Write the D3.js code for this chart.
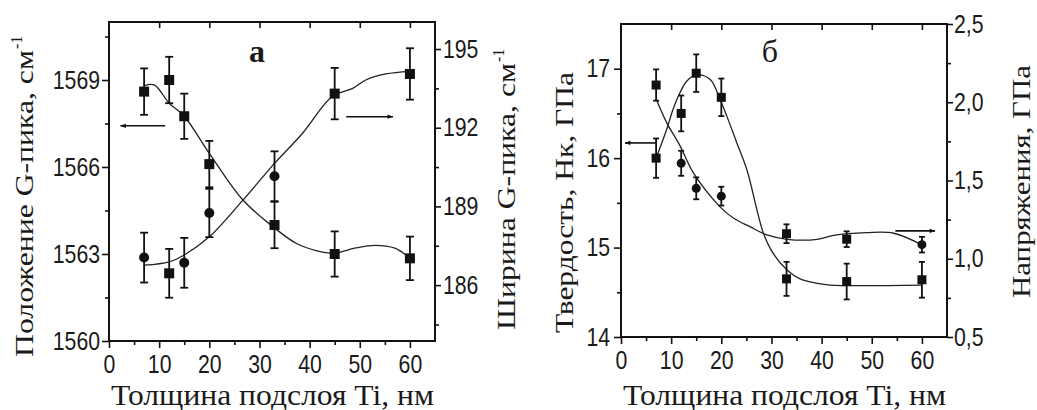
<!DOCTYPE html>
<html><head><meta charset="utf-8">
<script src="https://cdn.jsdelivr.net/npm/d3@7"></script>
<style>
body{margin:0;background:#fff}
svg{display:block}
.tick text{font-family:"Liberation Sans",Arial,sans-serif;font-size:25px;fill:#1a1a1a}
.tick line{stroke:#111;stroke-width:1.6}
.title{font-family:"Liberation Serif","Times New Roman",serif;fill:#1a1a1a}
</style></head><body><div id="chart"></div>
<script>
// толщина подслоя Ti, нм
const thickness = [7, 12, 15, 20, 33, 45, 60]
const xMajor = [0, 10, 20, 30, 40, 50, 60]
const xMinor = [5, 15, 25, 35, 45, 55]

// панель а: положение G-пика (левая ось) и ширина G-пика (правая ось)
const gPos = [1568.6, 1569.0, 1567.75, 1566.1, 1564.0, 1563.0, 1562.85]
const gPosErr = [0.8, 0.8, 0.78, 0.8, 0.8, 0.78, 0.75]
const gPosMark = ['square', 'square', 'square', 'square', 'square', 'square', 'square']
const gWidth = [187.05, 186.45, 186.85, 188.75, 190.15, 193.3, 194.05]
const gWidthErr = [0.95, 0.93, 0.95, 0.92, 0.95, 0.98, 0.98]
const gWidthMark = ['circle', 'square', 'circle', 'circle', 'circle', 'square', 'square']
const gPosFitX = [7, 9, 12, 15, 20, 26.7, 32.7, 37.3, 41.3, 45, 49, 53, 57, 60]
const gPosFit = [1568.8, 1568.83, 1568.2, 1567.75, 1566.47, 1564.86, 1563.94, 1563.37, 1563.12, 1563.03, 1563.2, 1563.3, 1563.2, 1562.85]
const gWidthFitX = [7, 12, 15, 20, 26.7, 33, 38.6, 44.5, 48.6, 51.2, 55.2, 60]
const gWidthFit = [186.76, 186.89, 187.15, 187.84, 189.24, 190.64, 191.79, 193.19, 193.5, 193.82, 194.05, 194.15]
const posTicks = [1560, 1563, 1566, 1569]
const posMinor = [1561.5, 1564.5, 1567.5, 1570.5]
const widthTicks = [186, 189, 192, 195]
const widthMinor = [184.5, 187.5, 190.5, 193.5]

// панель б: твердость (левая ось) и напряжения (правая ось)
const hardness = [16.0, 16.5, 16.95, 16.68, 14.65, 14.62, 14.64]
const hardnessErr = [0.22, 0.2, 0.21, 0.21, 0.19, 0.2, 0.2]
const hardnessMark = ['square', 'square', 'square', 'square', 'square', 'square', 'square']
const stress = [2.11, 1.61, 1.45, 1.40, 1.16, 1.125, 1.09]
const stressErr = [0.1, 0.08, 0.07, 0.06, 0.06, 0.05, 0.05]
const stressMark = ['square', 'circle', 'circle', 'circle', 'square', 'square', 'circle']
const hardFitX = [7, 9.1, 10.1, 11.1, 13.1, 15.1, 17.8, 19.8, 21.1, 23.1, 25.1, 28.4, 30.4, 33.1, 35.7, 39.1, 41.7, 60]
const hardFit = [16.0, 16.32, 16.5, 16.65, 16.86, 16.93, 16.88, 16.65, 16.47, 16.17, 15.87, 15.16, 14.93, 14.75, 14.65, 14.6, 14.58, 14.58]
const stressFitX = [7, 9.1, 11.8, 14.4, 19.8, 22.4, 25.7, 29.1, 33.1, 39.1, 42.4, 49, 54.4, 60]
const stressFit = [2.02, 1.87, 1.72, 1.55, 1.33, 1.26, 1.205, 1.152, 1.124, 1.124, 1.15, 1.167, 1.163, 1.088]
const hardTicks = [14, 15, 16, 17]
const hardMinor = [14.5, 15.5, 16.5]
const stressTicks = [0.5, 1.0, 1.5, 2.0, 2.5]
const stressMinor = [0.75, 1.25, 1.75, 2.25]

const squeeze = 0.85 // tick digits in the scan are condensed

const svg = d3.select('#chart').append('svg')
  .attr('width', 1037).attr('height', 410)

svg.append('defs').append('marker')
  .attr('id', 'head').attr('viewBox', '0 0 10 10')
  .attr('refX', 9).attr('refY', 5)
  .attr('markerWidth', 9).attr('markerHeight', 6)
  .attr('markerUnits', 'userSpaceOnUse')
  .attr('orient', 'auto')
  .append('path').attr('d', 'M0,1.5L10,5L0,8.5Z').attr('fill', '#111')

function drawPanel(p) {
  const g = svg.append('g')
  const x = d3.scaleLinear([0, 65], [p.x0, p.x1])
  const yL = d3.scaleLinear(p.yLdom, [p.bottom, p.top])
  const yR = d3.scaleLinear(p.yRdom, [p.bottom, p.top])

  const ax = (sel, axis) => {
    sel.call(axis)
    sel.select('.domain').remove()
    sel.selectAll('.tick text')
      .attr('x', function () { return (+this.getAttribute('x') || 0) / squeeze })
      .attr('transform', `scale(${squeeze},1)`)
  }

  g.append('g').attr('transform', `translate(0,${p.bottom})`)
    .call(ax, d3.axisBottom(x).tickValues(xMajor).tickSize(7).tickPadding(7))
  g.append('g').attr('transform', `translate(0,${p.bottom})`)
    .call(ax, d3.axisBottom(x).tickValues(xMinor).tickSize(4).tickFormat(() => ''))
  g.append('g').attr('transform', `translate(0,${p.top})`)
    .call(ax, d3.axisBottom(x).tickValues(xMajor.slice(1)).tickSize(6).tickFormat(() => ''))

  g.append('g').attr('transform', `translate(${p.x0},0)`)
    .call(ax, d3.axisLeft(yL).tickValues(p.yLticks).tickSize(7).tickPadding(p.padL).tickFormat(p.fmtL))
  g.append('g').attr('transform', `translate(${p.x0},0)`)
    .call(ax, d3.axisLeft(yL).tickValues(p.yLminor).tickSize(4).tickFormat(() => ''))
  g.append('g').attr('transform', `translate(${p.x1},0)`)
    .call(ax, d3.axisRight(yR).tickValues(p.yRticks).tickSize(6).tickPadding(p.padR).tickFormat(p.fmtR))
  g.append('g').attr('transform', `translate(${p.x1},0)`)
    .call(ax, d3.axisRight(yR).tickValues(p.yRminor).tickSize(4).tickFormat(() => ''))

  g.append('rect')
    .attr('x', p.x0).attr('y', p.top)
    .attr('width', p.x1 - p.x0).attr('height', p.bottom - p.top)
    .attr('fill', 'none').attr('stroke', '#111').attr('stroke-width', 2)

  const line = y => d3.line().x(d => x(d[0])).y(d => y(d[1])).curve(d3.curveCatmullRom.alpha(0.5))

  p.series.forEach(s => {
    const y = s.axis === 'L' ? yL : yR
    g.append('path')
      .datum(d3.zip(s.fitX, s.fit))
      .attr('d', line(y))
      .attr('fill', 'none').attr('stroke', '#222').attr('stroke-width', 1.3)

    const pts = thickness.map((t, i) => ({ t, v: s.vals[i], e: s.errs[i], m: s.marks[i] }))
    const eb = g.append('g').attr('stroke', '#111').attr('stroke-width', 1.8)
    eb.selectAll('line.v').data(pts).join('line')
      .attr('x1', d => x(d.t)).attr('x2', d => x(d.t))
      .attr('y1', d => y(d.v - d.e)).attr('y2', d => y(d.v + d.e))
    ;[-1, 1].forEach(k => {
      eb.selectAll(null).data(pts).join('line')
        .attr('x1', d => x(d.t) - p.cap).attr('x2', d => x(d.t) + p.cap)
        .attr('y1', d => y(d.v + k * d.e)).attr('y2', d => y(d.v + k * d.e))
    })
    g.selectAll(null).data(pts.filter(d => d.m === 'square')).join('rect')
      .attr('x', d => x(d.t) - p.sq / 2).attr('y', d => y(d.v) - p.sq / 2)
      .attr('width', p.sq).attr('height', p.sq).attr('fill', '#111')
    g.selectAll(null).data(pts.filter(d => d.m === 'circle')).join('circle')
      .attr('cx', d => x(d.t)).attr('cy', d => y(d.v)).attr('r', p.sq / 2)
      .attr('fill', '#111')
  })

  p.arrows.forEach(a => {
    const y = a.axis === 'L' ? yL : yR
    g.append('line')
      .attr('x1', x(a.from)).attr('x2', x(a.to))
      .attr('y1', y(a.v)).attr('y2', y(a.v))
      .attr('stroke', '#111').attr('stroke-width', 1.6)
      .attr('marker-end', 'url(#head)')
  })

  g.append('text').attr('class', 'title')
    .attr('x', p.labelX).attr('y', 62).attr('text-anchor', 'middle')
    .attr('font-size', 32).attr('font-weight', p.labelBold ? 'bold' : 'normal')
    .text(p.label)

  g.append('text').attr('class', 'title')
    .attr('x', (p.x0 + p.x1) / 2 - 161).attr('y', 405)
    .attr('font-size', 29)
    .attr('textLength', 323).attr('lengthAdjust', 'spacingAndGlyphs')
    .text('Толщина подслоя Ti, нм')

  p.titles.forEach(t => {
    const tg = g.append('g').attr('transform', `translate(${t.bx},${t.y0}) rotate(-90)`)
    tg.append('text').attr('class', 'title')
      .attr('font-size', 26)
      .attr('textLength', t.len).attr('lengthAdjust', 'spacingAndGlyphs')
      .text(t.text)
    if (t.sup) {
      tg.append('text').attr('class', 'title')
        .attr('x', t.len + 1).attr('y', -11).attr('font-size', 16)
        .text(t.sup)
    }
  })
}

const comma = d => d3.format('.1f')(d).replace('.', ',')

drawPanel({
  x0: 109, x1: 435, top: 22, bottom: 341,
  yLdom: [1560, 1571], yRdom: [183.87, 196.03],
  yLticks: posTicks, yLminor: posMinor, yRticks: widthTicks, yRminor: widthMinor,
  fmtL: d3.format('d'), fmtR: d3.format('d'), padL: 2, padR: 2,
  cap: 4, sq: 10,
  series: [
    { axis: 'L', vals: gPos, errs: gPosErr, marks: gPosMark, fitX: gPosFitX, fit: gPosFit },
    { axis: 'R', vals: gWidth, errs: gWidthErr, marks: gWidthMark, fitX: gWidthFitX, fit: gWidthFit }
  ],
  arrows: [
    { axis: 'L', from: 11.2, to: 2.3, v: 1567.42 },
    { axis: 'R', from: 47.3, to: 56.6, v: 192.42 }
  ],
  label: 'а', labelX: 257, labelBold: true,
  titles: [
    { bx: 33, y0: 357, len: 307, text: 'Положение G-пика, см', sup: '-1' },
    { bx: 515, y0: 330, len: 267, text: 'Ширина G-пика, см', sup: '-1' }
  ]
})

drawPanel({
  x0: 621, x1: 947, top: 24, bottom: 337,
  yLdom: [14, 17.5], yRdom: [0.5, 2.5],
  yLticks: hardTicks, yLminor: hardMinor, yRticks: stressTicks, yRminor: stressMinor,
  fmtL: d3.format('d'), fmtR: comma, padL: 4, padR: 1,
  cap: 3, sq: 9,
  series: [
    { axis: 'L', vals: hardness, errs: hardnessErr, marks: hardnessMark, fitX: hardFitX, fit: hardFit },
    { axis: 'R', vals: stress, errs: stressErr, marks: stressMark, fitX: stressFitX, fit: stressFit }
  ],
  arrows: [
    { axis: 'L', from: 7, to: 0.8, v: 16.17 },
    { axis: 'R', from: 54.7, to: 62.6, v: 1.178 }
  ],
  label: 'б', labelX: 770, labelBold: false,
  titles: [
    { bx: 573, y0: 333, len: 261, text: 'Твердость, Нк, ГПа' },
    { bx: 1030, y0: 298, len: 233, text: 'Напряжения, ГПа' }
  ]
})
</script></body></html>
